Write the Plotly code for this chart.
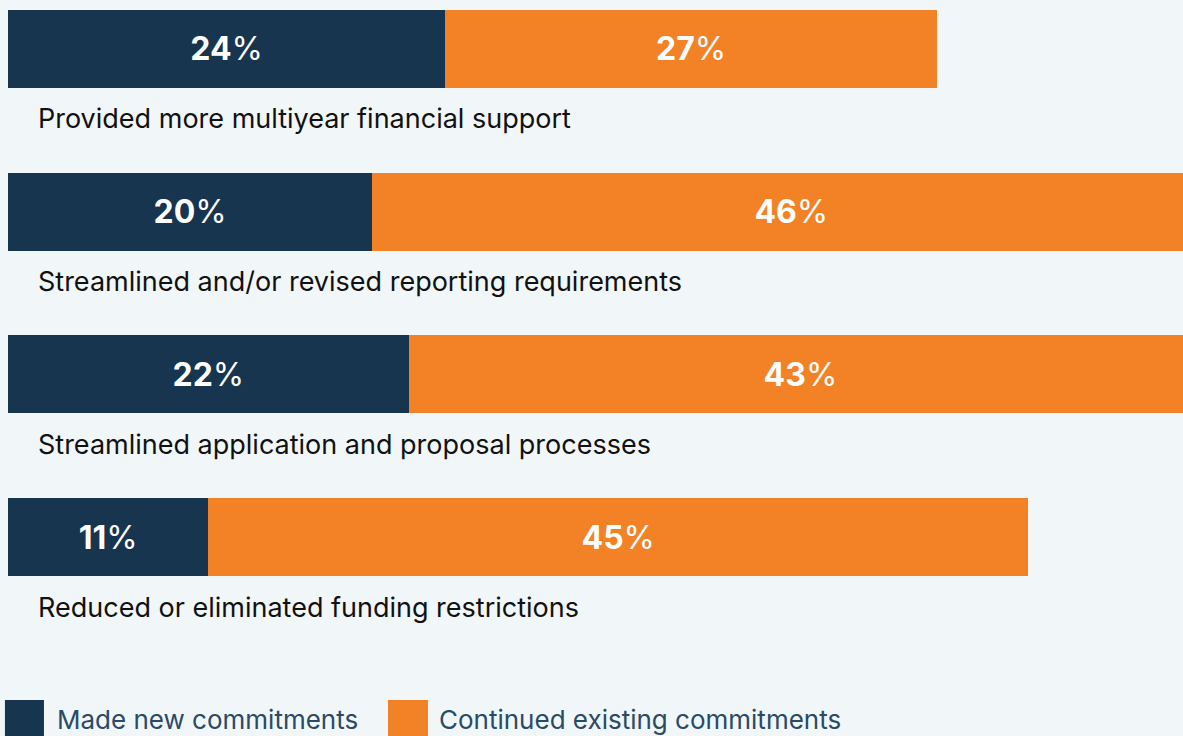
import plotly.graph_objects as go

categories = [
    "Provided more multiyear financial support",
    "Streamlined and/or revised reporting requirements",
    "Streamlined application and proposal processes",
    "Reduced or eliminated funding restrictions",
]
new_commitments = [24, 20, 22, 11]
continued_commitments = [27, 46, 43, 45]
series_names = ["Made new commitments", "Continued existing commitments"]

NAVY = "#17354f"
ORANGE = "#f38226"
BG = "#f1f6f9"
FONT = "Inter"

ypos = list(range(len(categories)))

fig = go.Figure()
for vals, name, col in [(new_commitments, series_names[0], NAVY),
                        (continued_commitments, series_names[1], ORANGE)]:
    fig.add_trace(go.Bar(
        y=ypos, x=vals, orientation="h", name=name,
        marker=dict(color=col, line=dict(width=0)), width=0.48,
        texttemplate="<b>%{x}</b>%", textposition="inside", insidetextanchor="middle",
        textfont=dict(color="white", size=32, family=FONT), hoverinfo="skip",
        cliponaxis=True,
    ))

for i, cat in enumerate(categories):
    fig.add_annotation(x=1.54, y=i + 0.43, xref="x", yref="y", text=cat,
                       showarrow=False, xanchor="left", yanchor="middle",
                       font=dict(size=27, color="#111111", family=FONT))

# legend
leg = [(series_names[0], NAVY, -0.0026, 0.0306, 0.040),
       (series_names[1], ORANGE, 0.3234, 0.3574, 0.365)]
for name, col, x0, x1, tx in leg:
    fig.add_shape(type="rect", xref="paper", yref="paper", x0=x0, x1=x1,
                  y0=-0.02, y1=0.049, fillcolor=col, line=dict(width=0))
    fig.add_annotation(x=tx, y=0.022, xref="paper", yref="paper", text=name,
                       showarrow=False, xanchor="left", yanchor="middle",
                       font=dict(size=26, color="#2a4a66", family=FONT))

fig.update_layout(
    width=1183, height=736, autosize=False,
    barmode="stack", showlegend=False,
    paper_bgcolor=BG, plot_bgcolor=BG,
    margin=dict(l=8, r=0, t=0, b=0, pad=0),
    xaxis=dict(range=[0, 64.5], visible=False, fixedrange=True),
    yaxis=dict(range=[4.222, -0.301], visible=False, fixedrange=True),
    font=dict(family=FONT),
)
fig.write_html(
    "out.html",
    config={"displayModeBar": False},
    post_script="document.body.style.margin='0';document.body.style.overflow='hidden';"
                "document.body.style.background='#f1f6f9';",
)
